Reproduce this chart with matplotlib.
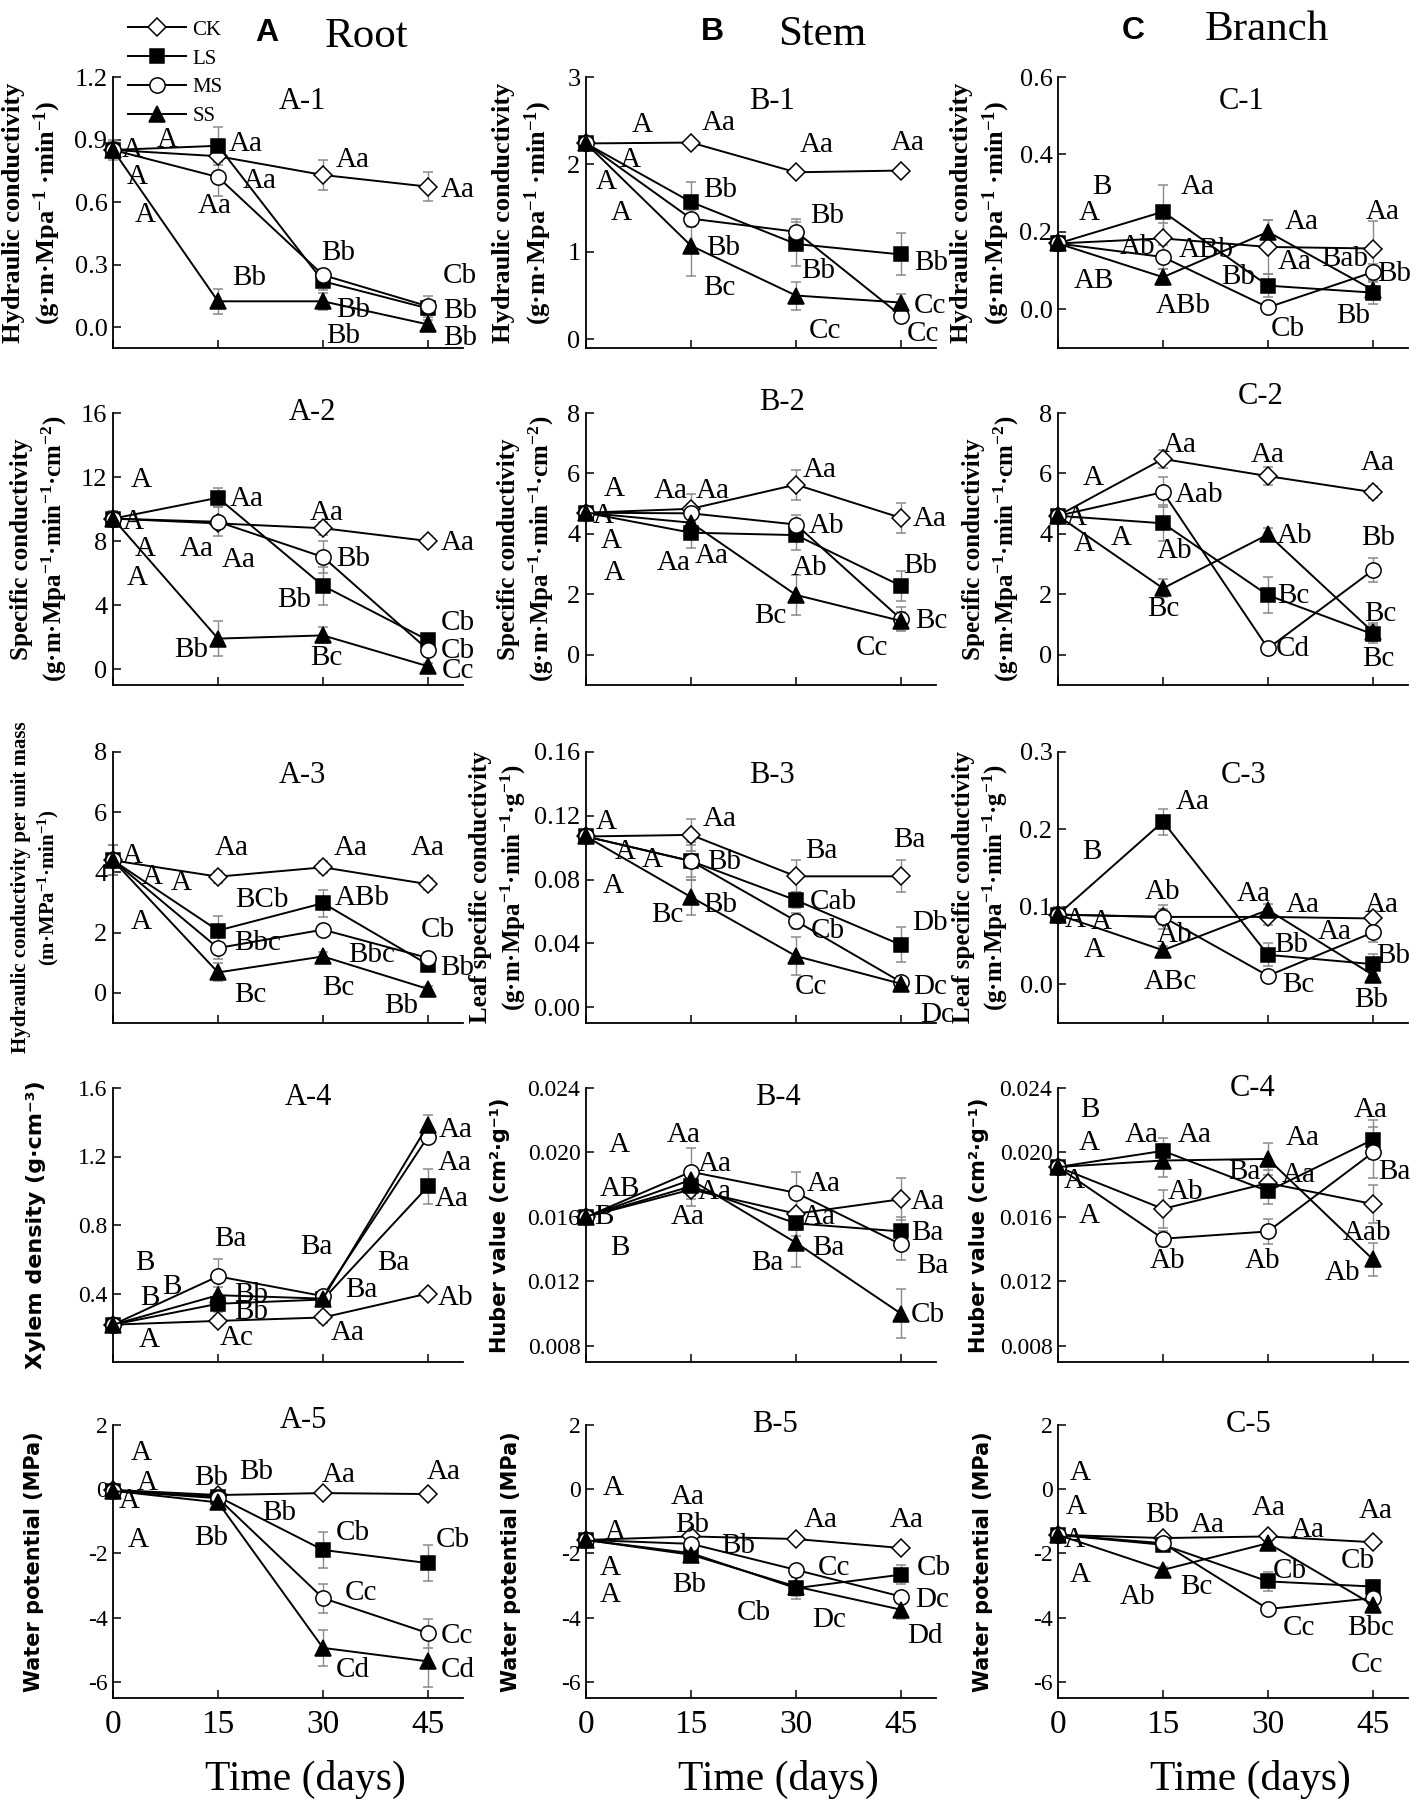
import matplotlib
matplotlib.use("Agg")
import matplotlib.pyplot as plt
from matplotlib.lines import Line2D

plt.rcParams.update({
    "font.family": ["Liberation Serif", "DejaVu Serif"],
    "mathtext.fontset": "custom",
    "mathtext.rm": "Liberation Serif:bold",
    "mathtext.it": "Liberation Serif:italic:bold",
    "mathtext.bf": "Liberation Serif:bold",
    "axes.unicode_minus": False,
})

days = [0, 15, 30, 45]
treatments = ["CK", "LS", "MS", "SS"]
x_ticks = [0, 15, 30, 45]

# ---------------- Row 1: hydraulic conductivity ----------------
a1_mean = {"CK": [0.85, 0.82, 0.73, 0.674], "LS": [0.85, 0.87, 0.22, 0.09],
           "MS": [0.85, 0.72, 0.25, 0.10], "SS": [0.85, 0.124, 0.124, 0.013]}
a1_err = {"CK": [0.05, 0.03, 0.07, 0.07], "LS": [0.04, 0.09, 0.04, 0.03],
          "MS": [0.04, 0.09, 0.03, 0.05], "SS": [0.04, 0.06, 0.04, 0.02]}
a1_labels = [("A", 7.7, 0.897), ("A", 2.7, 0.85), ("A", 3.4, 0.72), ("A", 4.6, 0.54),
             ("Aa", 18.9, 0.88), ("Aa", 21, 0.70), ("Aa", 14.5, 0.58), ("Aa", 34.3, 0.80),
             ("Aa", 49.3, 0.66), ("Bb", 19.4, 0.236), ("Bb", 32.2, 0.355), ("Bb", 34.3, 0.084),
             ("Bb", 32.9, -0.043), ("Cb", 49.6, 0.244), ("Bb", 49.6, 0.076), ("Bb", 49.6, -0.05)]

b1_mean = {"CK": [2.24, 2.25, 1.91, 1.93], "LS": [2.24, 1.57, 1.09, 0.97],
           "MS": [2.24, 1.38, 1.23, 0.27], "SS": [2.24, 1.07, 0.50, 0.42]}
b1_err = {"CK": [0.05, 0.03, 0.03, 0.03], "LS": [0.05, 0.23, 0.25, 0.24],
          "MS": [0.05, 0.10, 0.15, 0.05], "SS": [0.05, 0.35, 0.16, 0.10]}
b1_labels = [("A", 8.0, 2.45), ("Aa", 18.9, 2.47), ("Aa", 32.9, 2.22), ("Aa", 46, 2.24),
             ("A", 6.3, 2.05), ("A", 2.9, 1.80), ("A", 5.1, 1.44), ("Bb", 19.1, 1.71),
             ("Bb", 34.4, 1.41), ("Bb", 19.6, 1.04), ("Bb", 33.1, 0.78), ("Bc", 19.1, 0.59),
             ("Bb", 49.3, 0.87), ("Cc", 34.1, 0.095), ("Cc", 49.1, 0.38), ("Cc", 48.1, 0.057)]

c1_mean = {"CK": [0.17, 0.183, 0.161, 0.157], "LS": [0.17, 0.252, 0.061, 0.043],
           "MS": [0.17, 0.135, 0.005, 0.096], "SS": [0.17, 0.083, 0.20, 0.05]}
c1_err = {"CK": [0.02, 0.04, 0.07, 0.07], "LS": [0.02, 0.07, 0.03, 0.03],
          "MS": [0.02, 0.03, 0.01, 0.02], "SS": [0.02, 0.02, 0.03, 0.02]}
c1_labels = [("B", 6.2, 0.317), ("A", 4.5, 0.248), ("AB", 5.2, 0.074), ("Ab", 11.4, 0.161),
             ("ABb", 21.2, 0.152), ("Aa", 20, 0.317), ("ABb", 17.9, 0.009), ("Aa", 34.8, 0.226),
             ("Aa", 33.8, 0.122), ("Bb", 25.7, 0.083), ("Bab", 41, 0.130), ("Cb", 32.8, -0.052),
             ("Aa", 46.4, 0.252), ("Bb", 48, 0.091), ("Bb", 42.1, -0.017)]

# ---------------- Row 2: specific conductivity ----------------
a2_mean = {"CK": [9.4, 9.1, 8.8, 8.0], "LS": [9.4, 10.7, 5.2, 1.8],
           "MS": [9.4, 9.2, 7.0, 1.2], "SS": [9.4, 1.9, 2.1, 0.17]}
a2_err = {"CK": [0.5, 0.3, 0.4, 0.3], "LS": [0.5, 0.6, 1.2, 0.3],
          "MS": [0.5, 0.9, 1.0, 0.3], "SS": [0.5, 1.1, 0.5, 0.2]}
a2_labels = [("A", 4.1, 11.8), ("A", 2.9, 9.2), ("A", 4.6, 7.5), ("A", 3.4, 5.7),
             ("Aa", 19.1, 10.6), ("Aa", 11.9, 7.5), ("Aa", 17.9, 6.8), ("Aa", 30.5, 9.75),
             ("Bb", 34.3, 6.9), ("Bb", 25.9, 4.3), ("Bb", 11.1, 1.2), ("Bc", 30.5, 0.7),
             ("Aa", 49.3, 7.9), ("Cb", 49.3, 2.9), ("Cb", 49.3, 1.1), ("Cc", 49.3, -0.15)]

b2_mean = {"CK": [4.7, 4.83, 5.63, 4.53], "LS": [4.7, 4.04, 3.96, 2.28],
           "MS": [4.7, 4.68, 4.31, 1.18], "SS": [4.7, 4.37, 1.98, 1.12]}
b2_err = {"CK": [0.2, 0.5, 0.5, 0.5], "LS": [0.2, 0.5, 0.5, 0.5],
          "MS": [0.2, 0.3, 0.3, 0.4], "SS": [0.2, 0.3, 0.65, 0.3]}
b2_labels = [("A", 4.1, 5.47), ("A", 2.4, 4.59), ("A", 3.6, 3.76), ("A", 4.1, 2.72),
             ("Aa", 12.1, 5.41), ("Aa", 18.1, 5.41), ("Aa", 12.6, 3.05), ("Aa", 17.9, 3.27),
             ("Aa", 33.4, 6.13), ("Ab", 34.3, 4.26), ("Ab", 31.9, 2.88), ("Bc", 26.4, 1.29),
             ("Aa", 49.1, 4.48), ("Bb", 47.7, 2.94), ("Bc", 49.3, 1.12), ("Cc", 40.9, 0.24)]

c2_mean = {"CK": [4.6, 6.48, 5.91, 5.38], "LS": [4.6, 4.35, 1.97, 0.68],
           "MS": [4.6, 5.38, 0.21, 2.80], "SS": [4.6, 2.20, 3.98, 0.75]}
c2_err = {"CK": [0.2, 0.3, 0.3, 0.2], "LS": [0.2, 0.6, 0.6, 0.3],
          "MS": [0.2, 0.5, 0.1, 0.4], "SS": [0.2, 0.3, 0.2, 0.3]}
c2_labels = [("A", 5, 5.85), ("A", 2.6, 4.53), ("A", 3.8, 3.65), ("A", 9, 3.87),
             ("Aa", 17.4, 6.95), ("Aab", 20.2, 5.3), ("Ab", 16.7, 3.43), ("Bc", 15, 1.51),
             ("Aa", 30, 6.62), ("Ab", 33.8, 3.93), ("Bc", 33.6, 1.95), ("Cd", 33.6, 0.19),
             ("Aa", 45.7, 6.35), ("Bb", 45.7, 3.87), ("Bc", 46, 1.34), ("Bc", 45.7, -0.14)]

# ---------------- Row 3 ----------------
a3_mean = {"CK": [4.4, 3.86, 4.17, 3.61], "LS": [4.4, 2.07, 2.98, 0.94],
           "MS": [4.4, 1.49, 2.10, 1.16], "SS": [4.4, 0.68, 1.21, 0.13]}
a3_err = {"CK": [0.5, 0.2, 0.2, 0.2], "LS": [0.5, 0.5, 0.45, 0.2],
          "MS": [0.5, 0.35, 0.15, 0.2], "SS": [0.5, 0.3, 0.15, 0.1]}
a3_labels = [("A", 2.7, 4.53), ("A", 5.6, 3.86), ("A", 9.7, 3.64), ("A", 4.1, 2.37),
             ("Aa", 16.9, 4.8), ("Aa", 33.9, 4.8), ("Aa", 45, 4.8), ("BCb", 21.3, 3.09),
             ("ABb", 35.6, 3.15), ("Bbc", 20.6, 1.66), ("Bbc", 37, 1.27), ("Bc", 19.6, -0.06),
             ("Bc", 32.2, 0.17), ("Cb", 46.4, 2.1), ("Bb", 49.1, 0.83), ("Bb", 41.1, -0.44)]

b3_mean = {"CK": [0.107, 0.108, 0.082, 0.082], "LS": [0.107, 0.0916, 0.067, 0.039],
           "MS": [0.107, 0.0916, 0.054, 0.0157], "SS": [0.107, 0.069, 0.032, 0.0146]}
b3_err = {"CK": [0.003, 0.010, 0.010, 0.010], "LS": [0.003, 0.010, 0.005, 0.011],
          "MS": [0.003, 0.012, 0.005, 0.004], "SS": [0.003, 0.011, 0.012, 0.004]}
b3_labels = [("A", 2.9, 0.116), ("A", 5.6, 0.097), ("A", 9.4, 0.092), ("A", 3.9, 0.076),
             ("Aa", 19.1, 0.118), ("Bb", 19.8, 0.091), ("Bb", 19.1, 0.064), ("Bc", 11.6, 0.0575),
             ("Ba", 33.6, 0.098), ("Cab", 35.3, 0.066), ("Cb", 34.6, 0.048), ("Cc", 32.2, 0.0125),
             ("Ba", 46.2, 0.1045), ("Db", 49.1, 0.053), ("Dc", 49.1, 0.0125), ("Dc", 50.1, -0.005)]

c3_mean = {"CK": [0.09, 0.087, 0.087, 0.085], "LS": [0.09, 0.21, 0.038, 0.026],
           "MS": [0.09, 0.087, 0.011, 0.067], "SS": [0.09, 0.044, 0.096, 0.012]}
c3_err = {"CK": [0.01, 0.01, 0.01, 0.01], "LS": [0.01, 0.017, 0.015, 0.013],
          "MS": [0.01, 0.015, 0.008, 0.012], "SS": [0.01, 0.005, 0.008, 0.006]}
c3_labels = [("B", 4.8, 0.171), ("A", 2.4, 0.083), ("A", 6.2, 0.081), ("A", 5.2, 0.044),
             ("Aa", 19.3, 0.235), ("Ab", 15, 0.119), ("Ab", 16.7, 0.064), ("ABc", 16, 0.003),
             ("Aa", 27.9, 0.117), ("Aa", 35, 0.102), ("Bb", 33.3, 0.051), ("Bc", 34.3, -0.001),
             ("Aa", 39.5, 0.068), ("Aa", 46.2, 0.102), ("Bb", 47.9, 0.036), ("Bb", 44.8, -0.02)]

# ---------------- Row 4 ----------------
a4_mean = {"CK": [0.218, 0.24, 0.26, 0.40], "LS": [0.218, 0.34, 0.365, 1.025],
           "MS": [0.218, 0.50, 0.385, 1.316], "SS": [0.218, 0.39, 0.37, 1.384]}
a4_err = {"CK": [0.04, 0.03, 0.03, 0.02], "LS": [0.04, 0.05, 0.03, 0.10],
          "MS": [0.04, 0.10, 0.03, 0.04], "SS": [0.04, 0.05, 0.03, 0.06]}
a4_labels = [("B", 4.5, 0.58), ("B", 8.4, 0.44), ("B", 5.2, 0.375), ("A", 5.2, 0.13),
             ("Ba", 16.8, 0.72), ("Bb", 19.7, 0.39), ("Bb", 19.7, 0.29), ("Ac", 17.7, 0.14),
             ("Ba", 29, 0.67), ("Ba", 40, 0.58), ("Ba", 35.5, 0.42), ("Aa", 33.5, 0.17),
             ("Aa", 49, 1.355), ("Aa", 48.8, 1.16), ("Aa", 48.4, 0.95), ("Ab", 49, 0.375)]

b4_mean = {"CK": [0.0160, 0.0177, 0.0162, 0.0171], "LS": [0.0160, 0.0179, 0.0156, 0.0151],
           "MS": [0.0160, 0.0188, 0.0175, 0.0143], "SS": [0.0160, 0.0183, 0.0144, 0.0100]}
b4_err = {"CK": [0.0003, 0.0010, 0.0010, 0.0013], "LS": [0.0003, 0.0008, 0.0008, 0.0009],
          "MS": [0.0003, 0.0015, 0.0013, 0.0010], "SS": [0.0003, 0.0008, 0.0015, 0.0015]}
b4_labels = [("A", 4.8, 0.02045), ("AB", 4.8, 0.01774), ("B", 2.6, 0.01597), ("B", 4.8, 0.01409),
             ("Aa", 13.9, 0.02108), ("Aa", 18.4, 0.01931), ("Aa", 18.4, 0.01753), ("Aa", 14.5, 0.01597),
             ("Aa", 33.9, 0.01805), ("Aa", 33.3, 0.01597), ("Ba", 34.6, 0.01409), ("Ba", 25.9, 0.01315),
             ("Aa", 48.8, 0.01691), ("Ba", 48.8, 0.01503), ("Ba", 49.5, 0.01294), ("Cb", 48.8, 0.00992)]

c4_mean = {"CK": [0.0191, 0.0165, 0.0181, 0.0168], "LS": [0.0191, 0.0201, 0.0176, 0.0208],
           "MS": [0.0191, 0.01465, 0.0151, 0.0200], "SS": [0.0191, 0.0195, 0.0196, 0.01336]}
c4_err = {"CK": [0.0003, 0.0012, 0.0008, 0.0012], "LS": [0.0003, 0.0008, 0.0008, 0.0012],
          "MS": [0.0003, 0.0005, 0.0008, 0.0016], "SS": [0.0003, 0.0010, 0.0010, 0.0010]}
c4_labels = [("B", 4.5, 0.02264), ("A", 4.5, 0.02056), ("A", 2.3, 0.01826), ("A", 4.5, 0.01607),
             ("Aa", 11.9, 0.02108), ("Aa", 19.5, 0.02108), ("Ab", 18.2, 0.01753), ("Ab", 15.6, 0.01326),
             ("Aa", 35, 0.02087), ("Ba", 26.6, 0.01879), ("Aa", 34.4, 0.01858), ("Ab", 29.2, 0.01326),
             ("Aa", 44.7, 0.02264), ("Ba", 48, 0.01879), ("Aab", 44.1, 0.01503), ("Ab", 40.6, 0.01253)]

# ---------------- Row 5: water potential ----------------
a5_mean = {"CK": [-0.02, -0.18, -0.12, -0.15], "LS": [-0.05, -0.23, -1.89, -2.30],
           "MS": [-0.05, -0.28, -3.39, -4.48], "SS": [-0.05, -0.41, -4.94, -5.36]}
a5_err = {"CK": [0.1, 0.1, 0.1, 0.1], "LS": [0.1, 0.1, 0.55, 0.55],
          "MS": [0.1, 0.1, 0.45, 0.45], "SS": [0.1, 0.15, 0.55, 0.8]}
a5_labels = [("A", 4, 1.12), ("A", 4.9, 0.19), ("A", 2.3, -0.38), ("A", 3.6, -1.58),
             ("Bb", 14, 0.34), ("Bb", 20.5, 0.55), ("Bb", 23.8, -0.75), ("Bb", 14, -1.52),
             ("Aa", 32.2, 0.45), ("Aa", 47.2, 0.55), ("Cb", 34.2, -1.37), ("Cb", 48.5, -1.58),
             ("Cc", 35.5, -3.23), ("Cc", 49.2, -4.58), ("Cd", 34.2, -5.62), ("Cd", 49.2, -5.62)]

b5_mean = {"CK": [-1.58, -1.47, -1.55, -1.83], "LS": [-1.58, -1.99, -3.08, -2.66],
           "MS": [-1.58, -1.70, -2.51, -3.34], "SS": [-1.58, -2.04, -3.03, -3.75]}
b5_err = {"CK": [0.1, 0.1, 0.1, 0.1], "LS": [0.1, 0.1, 0.35, 0.3],
          "MS": [0.1, 0.15, 0.15, 0.15], "SS": [0.1, 0.1, 0.3, 0.3]}
b5_labels = [("A", 3.9, 0.03), ("A", 4.2, -1.32), ("A", 3.5, -2.46), ("A", 3.5, -3.28),
             ("Aa", 14.6, -0.23), ("Bb", 15.2, -1.11), ("Bb", 21.7, -1.78), ("Bb", 14.8, -2.97),
             ("Aa", 33.5, -0.95), ("Cc", 35.4, -2.46), ("Cb", 24, -3.85), ("Dc", 34.8, -4.06),
             ("Aa", 45.8, -0.95), ("Cb", 49.7, -2.46), ("Dc", 49.5, -3.44), ("Dd", 48.4, -4.58)]

c5_mean = {"CK": [-1.42, -1.52, -1.47, -1.65], "LS": [-1.42, -1.73, -2.87, -3.03],
           "MS": [-1.42, -1.68, -3.73, -3.39], "SS": [-1.42, -2.51, -1.68, -3.60]}
c5_err = {"CK": [0.1, 0.1, 0.1, 0.1], "LS": [0.1, 0.1, 0.3, 0.2],
          "MS": [0.1, 0.2, 0.1, 0.1], "SS": [0.1, 0.1, 0.1, 0.2]}
c5_labels = [("A", 3.2, 0.5), ("A", 2.6, -0.54), ("A", 2.3, -1.58), ("A", 3.2, -2.66),
             ("Bb", 14.9, -0.8), ("Aa", 21.4, -1.11), ("Ab", 11.3, -3.34), ("Bc", 19.8, -3.03),
             ("Aa", 30.1, -0.59), ("Aa", 35.7, -1.26), ("Cb", 33.1, -2.56), ("Cc", 34.4, -4.32),
             ("Aa", 45.4, -0.69), ("Cb", 42.8, -2.25), ("Bbc", 44.7, -4.32), ("Cc", 44.1, -5.46)]

# ---------------- axis texts ----------------
ylab_hc = "Hydraulic conductivity\n(g·m·Mpa$^{-1}$ ·min$^{-1}$)"
ylab_sc = "Specific conductivity\n(g·m·Mpa$^{-1}$·min$^{-1}$·cm$^{-2}$)"
ylab_hm = "Hydraulic conductivity per unit mass\n(m·MPa$^{-1}$·min$^{-1}$)"
ylab_ls = "Leaf specific conductivity\n(g·m·Mpa$^{-1}$·min$^{-1}$·g$^{-1}$)"
ylab_xd = "Xylem density (g·cm⁻³)"
ylab_hv = "Huber value (cm²·g⁻¹)"
ylab_wp = "Water potential (MPa)"

# panel layout: (mean, err, labels, title, ylabel, ylim, yticks, fmt)
grid = [
    [(a1_mean, a1_err, a1_labels, "A-1", ylab_hc, (-0.1, 1.2), [0, 0.3, 0.6, 0.9, 1.2], "{:.1f}"),
     (b1_mean, b1_err, b1_labels, "B-1", ylab_hc, (-0.1, 3), [0, 1, 2, 3], "{:.0f}"),
     (c1_mean, c1_err, c1_labels, "C-1", ylab_hc, (-0.1, 0.6), [0, 0.2, 0.4, 0.6], "{:.1f}")],
    [(a2_mean, a2_err, a2_labels, "A-2", ylab_sc, (-1, 16), [0, 4, 8, 12, 16], "{:.0f}"),
     (b2_mean, b2_err, b2_labels, "B-2", ylab_sc, (-1, 8), [0, 2, 4, 6, 8], "{:.0f}"),
     (c2_mean, c2_err, c2_labels, "C-2", ylab_sc, (-1, 8), [0, 2, 4, 6, 8], "{:.0f}")],
    [(a3_mean, a3_err, a3_labels, "A-3", ylab_hm, (-1, 8), [0, 2, 4, 6, 8], "{:.0f}"),
     (b3_mean, b3_err, b3_labels, "B-3", ylab_ls, (-0.01, 0.16), [0, 0.04, 0.08, 0.12, 0.16], "{:.2f}"),
     (c3_mean, c3_err, c3_labels, "C-3", ylab_ls, (-0.05, 0.3), [0, 0.1, 0.2, 0.3], "{:.1f}")],
    [(a4_mean, a4_err, a4_labels, "A-4", ylab_xd, (0, 1.6), [0.4, 0.8, 1.2, 1.6], "{:.1f}"),
     (b4_mean, b4_err, b4_labels, "B-4", ylab_hv, (0.007, 0.024), [0.008, 0.012, 0.016, 0.020, 0.024], "{:.3f}"),
     (c4_mean, c4_err, c4_labels, "C-4", ylab_hv, (0.007, 0.024), [0.008, 0.012, 0.016, 0.020, 0.024], "{:.3f}")],
    [(a5_mean, a5_err, a5_labels, "A-5", ylab_wp, (-6.5, 2), [-6, -4, -2, 0, 2], "{:.0f}"),
     (b5_mean, b5_err, b5_labels, "B-5", ylab_wp, (-6.5, 2), [-6, -4, -2, 0, 2], "{:.0f}"),
     (c5_mean, c5_err, c5_labels, "C-5", ylab_wp, (-6.5, 2), [-6, -4, -2, 0, 2], "{:.0f}")],
]

# layout (pixels of a 1417x1814 figure)
W, H = 1417, 1814
col_left = [113, 586, 1058]
ax_w = 350
row_tb = [(77, 348), (413, 685), (752, 1023), (1088, 1362), (1425, 1698)]
title_pos = [[(0.54, 0.908), (0.53, 0.908), (0.526, 0.908)],
             [(0.57, 1.0), (0.56, 1.04), (0.58, 1.06)],
             [(0.54, 0.915), (0.53, 0.915), (0.53, 0.915)],
             [(0.557, 0.967), (0.547, 0.967), (0.557, 1.0)],
             [(0.543, 1.018), (0.54, 1.0), (0.546, 1.0)]]
ylab_x = [[-0.23, -0.18, -0.22], [-0.21, -0.17, -0.19], [-0.22, -0.25, -0.22],
          [-0.22, -0.245, -0.225], [-0.225, -0.215, -0.215]]
ylab_size = [[19, 19, 19], [18, 18, 18], [15, 18, 18], [16, 15, 15], [15, 15, 15]]

styles = {"CK": dict(marker="D", mfc="white", ms=9),
          "LS": dict(marker="s", mfc="black", ms=9.5),
          "MS": dict(marker="o", mfc="white", ms=11),
          "SS": dict(marker="^", mfc="black", ms=11)}

fig = plt.figure(figsize=(W / 100, H / 100), dpi=100)

for r, row in enumerate(grid):
    top, bot = row_tb[r]
    for c, (mean, err, labels, title, ylabel, ylim, yticks, fmt) in enumerate(row):
        ax = fig.add_axes([col_left[c] / W, 1 - bot / H, ax_w / W, (bot - top) / H])
        for t in treatments:
            cont = ax.errorbar(days, mean[t], yerr=err[t], color="black", lw=1.4,
                               ecolor="#8a8a8a", elinewidth=1, capsize=3.5, capthick=1,
                               mec="black", mew=1.1, **styles[t])
            for art in cont.get_children():
                art.set_clip_on(False)
        for s, lx, ly in labels:
            ax.text(lx, ly, s, ha="center", va="center", fontsize=21)
        ax.set_xlim(0, 50)
        ax.set_ylim(*ylim)
        ax.set_xticks(x_ticks)
        ax.set_yticks(yticks)
        ax.set_yticklabels([fmt.format(v) for v in yticks], fontsize=19 if r < 3 else 17)
        if r == 4:
            ax.set_xticklabels([str(v) for v in x_ticks], fontsize=24)
            ax.set_xlabel("Time (days)", fontsize=30)
            ax.xaxis.set_label_coords(0.55, -0.30)
            ax.xaxis.label.set_va("center")
        else:
            ax.set_xticklabels([])
        ax.tick_params(direction="in", length=6, width=1.1, pad=4)
        ax.tick_params(axis="x", pad=8)
        for sp in ("top", "right"):
            ax.spines[sp].set_visible(False)
        for sp in ("left", "bottom"):
            ax.spines[sp].set_linewidth(1.3)
        if r >= 3:
            ax.set_ylabel(ylabel, fontsize=ylab_size[r][c], fontweight="bold",
                          family=["DejaVu Sans"])
        else:
            ax.set_ylabel(ylabel, fontsize=ylab_size[r][c], fontweight="bold", linespacing=1.3)
        ax.yaxis.set_label_coords(ylab_x[r][c], 0.5)
        ax.yaxis.label.set_va("center")
        tx, ty = title_pos[r][c]
        ax.text(tx, ty, title, transform=ax.transAxes, ha="center", va="center", fontsize=22)

# column headers
headers = [("A", "Root", 267, 367, 41, 47), ("B", "Stem", 712, 822, 40, 45),
           ("C", "Branch", 1133, 1267, 39, 40)]
for letter, name, lx, nx, ly, ny in headers:
    fig.text(lx / W, 1 - ly / H, letter, ha="center", va="baseline", fontsize=23,
             fontweight="bold", family=["Liberation Sans", "DejaVu Sans"])
    fig.text(nx / W, 1 - ny / H, name, ha="center", va="baseline", fontsize=31)

# legend
handles = [Line2D([], [], color="black", lw=1.4, mec="black", mew=1.1, **styles[t]) for t in treatments]
fig.legend(handles, treatments, loc="upper left", bbox_to_anchor=(128 / W, 1 - 20 / H),
           frameon=False, fontsize=15, handlelength=2.8, handletextpad=0.3,
           labelspacing=0.45, borderpad=0, borderaxespad=0)

fig.savefig("out.png", dpi=100)
